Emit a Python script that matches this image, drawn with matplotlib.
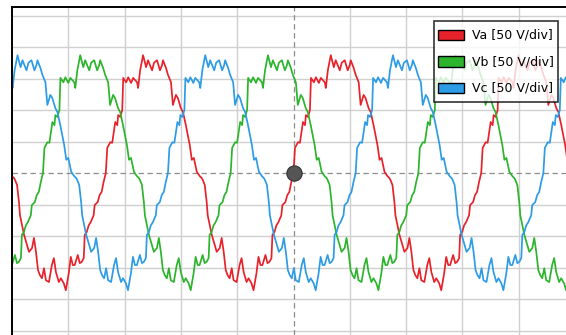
import matplotlib

matplotlib.use("Agg")

import matplotlib.pyplot as plt
import numpy as np
from matplotlib.patches import Patch, Rectangle
from matplotlib.legend_handler import HandlerPatch

cycle_t = [0.00, 0.13, 0.40, 0.57, 0.84, 1.02, 1.10, 1.28, 1.46, 1.55, 1.81, 1.99, 2.25, 2.43,
           2.78, 2.87, 3.05, 3.31, 3.58, 3.75, 4.11, 4.28, 4.55, 4.81, 4.99, 5.08, 5.34, 5.52,
           5.79, 5.96, 6.23, 6.40, 6.67, 6.85, 7.11, 7.29, 7.46, 7.64, 7.82, 8.08, 8.35, 8.52,
           8.61, 8.79, 8.97, 9.05, 9.41, 9.67, 9.85, 10.12, 10.29, 10.47, 10.65, 10.82, 11.00,
           11.18, 11.35, 11.62, 11.88, 12.06, 12.24, 12.50, 12.68, 12.94, 13.12, 13.38, 13.56,
           13.74, 13.91, 14.18, 14.36, 14.53, 14.71, 14.80, 14.97, 15.15, 15.33, 15.59, 15.68,
           15.95, 16.12, 16.30, 16.48]  # ms
cycle_v = [0, 40, 49, 48, 81, 76, 92, 89, 100, 151, 144, 152, 143, 151,
           144, 135, 163, 187, 168, 179, 163, 175, 179, 163, 171, 179, 167, 156,
           144, 108, 124, 119, 103, 97, 76, 60, 44, 21, 24, 2, -5, -8,
           -11, -19, -48, -67, -98, -114, -125, -119, -103, -125, -154, -162, -167,
           -151, -170, -173, -146, -135, -157, -173, -167, -175, -186, -159, -133,
           -146, -146, -130, -143, -141, -135, -98, -94, -83, -78, -67, -51,
           -46, -35, -30, -14]  # V
period_ms = 16.67

phase_labels = ["Va [50 V/div]", "Vb [50 V/div]", "Vc [50 V/div]"]
phase_start = [8.33, 2.75, 13.85]  # ms, rising zero crossing of first full cycle
phase_colors = ["#e8222a", "#2cb52c", "#2c9ce6"]

cursor_t = 25.0
x_max = 49.2
y_min, y_max = -257, 263.5


def _phase_trace(start):
    ts, vs = [], []
    for k in range(-1, 4):
        ts.extend(start + k * period_ms + np.asarray(cycle_t))
        vs.extend(cycle_v)
    return np.asarray(ts), np.asarray(vs)


def _small_box(legend, orig_handle, xdescent, ydescent, width, height, fontsize):
    h = height * 0.52
    return Rectangle((-xdescent, -ydescent + (height - h) / 2), width, h)


fig = plt.figure(figsize=(5.66, 3.35), dpi=100)
ax = fig.add_axes([12 / 566, 0, 1 - 12 / 566, 1 - 7 / 335])

# scope graticule
for x in np.arange(5, x_max, 5):
    if x == cursor_t:
        continue
    ax.axvline(x, color="#d0d0d0", lw=1.0, zorder=0)
for y in np.arange(-250, 251, 50):
    if y == 0:
        continue
    ax.axhline(y, color="#d0d0d0", lw=1.0, zorder=0)
ax.axvline(cursor_t, color="#8c8c8c", lw=0.9, ls=(0, (4.3, 2.9)), zorder=1)
ax.axhline(0, color="#8c8c8c", lw=0.9, ls=(0, (4.3, 2.9)), zorder=1)

for start, color in zip(phase_start, phase_colors):
    t, v = _phase_trace(start)
    ax.plot(t, v, color=color, lw=1.25, zorder=2)

ax.plot([cursor_t], [0], marker="o", ms=11, mfc="#555555", mec="#333333", mew=0.8,
        zorder=5, clip_on=False)

ax.set_xlim(0, x_max)
ax.set_ylim(y_min, y_max)
ax.set_xticks([])
ax.set_yticks([])
for side in ("right", "bottom"):
    ax.spines[side].set_visible(False)
for side in ("left", "top"):
    ax.spines[side].set_color("black")
    ax.spines[side].set_linewidth(1.4)

handles = [Patch(facecolor=c, edgecolor="black", linewidth=1.0) for c in phase_colors]
leg = ax.legend(handles, phase_labels, loc="upper right",
                bbox_to_anchor=(558 / 566, 1 - 21 / 335), bbox_transform=fig.transFigure,
                fontsize=9, handlelength=2.08, handleheight=2.08, handletextpad=0.64,
                labelspacing=0.52, borderpad=0.32, borderaxespad=0, fancybox=False,
                framealpha=0.8, edgecolor="black",
                handler_map={Patch: HandlerPatch(patch_func=_small_box)})
leg.get_frame().set_linewidth(1.2)
leg.set_zorder(10)

fig.savefig("out.png", dpi=100)
plt.close(fig)
